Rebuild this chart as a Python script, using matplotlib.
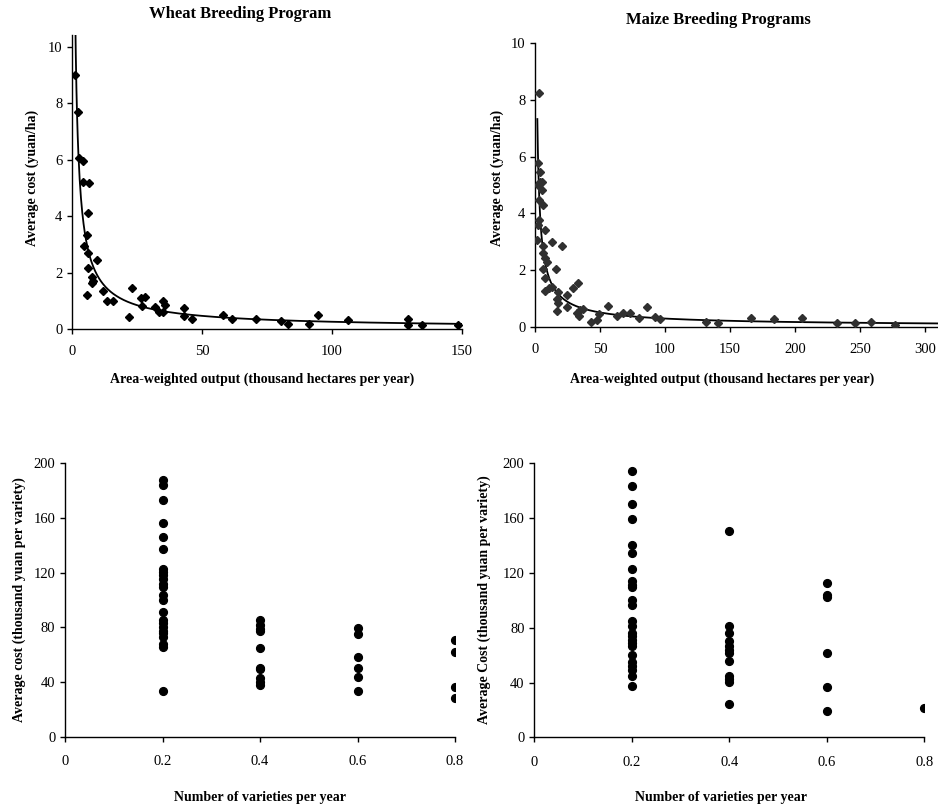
import numpy as np
import matplotlib
matplotlib.use("Agg")
import matplotlib.pyplot as plt

plt.rcParams['font.family'] = ['Liberation Serif', 'DejaVu Serif']

# ---- Data ----
wheat_x = [1.2, 2.4, 2.8, 4.4, 4.4, 6.7, 6.3, 5.9, 4.7, 6.3, 9.7, 6.3, 7.8, 8.2, 7.8, 5.6,
           12.1, 13.3, 15.9, 22.9, 22.1, 26.4, 28.1, 26.8, 31.9, 33.6, 35.1, 35.8, 34.9,
           43.1, 43.1, 46.0, 58.0, 61.4, 70.6, 80.3, 83.2, 91.2, 94.7, 106.3, 129.1, 129.1,
           134.5, 148.6]
wheat_y = [9.0, 7.7, 6.05, 5.97, 5.22, 5.17, 4.1, 3.34, 2.95, 2.69, 2.45, 2.18, 1.86, 1.69,
           1.63, 1.21, 1.36, 0.98, 0.98, 1.47, 0.42, 1.1, 1.12, 0.83, 0.78, 0.59, 0.98, 0.86,
           0.62, 0.74, 0.45, 0.37, 0.51, 0.37, 0.37, 0.29, 0.19, 0.18, 0.50, 0.32, 0.34, 0.14,
           0.14, 0.14]

maize_x = [3.3, 2.1, 3.8, 5.1, 3.8, 2.6, 5.1, 3.3, 5.9, 3.3, 2.6, 1.8, 7.7, 5.9, 5.9, 7.7,
           9.0, 13.3, 20.5, 15.9, 6.4, 7.7, 7.7, 11.0, 13.3, 17.4, 16.7, 17.4, 16.7, 24.4,
           24.4, 29.0, 33.3, 32.0, 34.1, 34.6, 37.2, 42.8, 47.4, 49.5, 56.4, 62.8, 67.4,
           73.1, 80.3, 86.4, 92.3, 96.5, 131.3, 140.5, 165.9, 184.1, 205.4, 232.0, 246.0,
           258.5, 277.0]
maize_y = [8.24, 5.76, 5.47, 5.09, 5.12, 5.0, 4.82, 4.47, 4.29, 3.76, 3.59, 3.06, 3.41, 2.85,
           2.59, 2.41, 2.3, 3.0, 2.85, 2.02, 2.02, 1.73, 1.27, 1.35, 1.41, 1.24, 0.96, 0.82,
           0.55, 1.12, 0.71, 1.35, 1.53, 0.47, 0.39, 0.59, 0.61, 0.18, 0.24, 0.45, 0.73, 0.38,
           0.49, 0.47, 0.29, 0.68, 0.35, 0.28, 0.15, 0.12, 0.30, 0.26, 0.30, 0.12, 0.12, 0.17,
           0.06]

wheat_var_x = [0.2] * 24 + [0.4] * 10 + [0.6] * 6 + [0.8] * 4
wheat_var_y = [188, 184, 173, 156, 146, 137, 123, 120.5, 118, 115, 111.5, 109.5, 103.5, 100,
               91.5, 85.5, 83, 80.5, 77.5, 75.5, 73, 68, 65.5, 33.7,
               85.4, 82, 78.5, 77, 65.2, 50.6, 49.5, 43, 40.2, 38,
               79.7, 74.9, 58.5, 50.0, 43.9, 33.7,
               70.7, 62.2, 36.6, 28.1]

maize_var_x = [0.2] * 25 + [0.4] * 12 + [0.6] * 6 + [0.8] * 1
maize_var_y = [194.4, 183.4, 170.5, 159.5, 140.2, 134.6, 122.9, 113.9, 111.5, 109.5, 100,
               96.8, 85.1, 80.9, 76.1, 73.7, 71.2, 68.8, 66.3, 60.2, 54.6, 52.2, 49.3, 44.4,
               37.6,
               150.3, 81.5, 76, 70, 67, 64, 61.5, 55.8, 44.8, 42.4, 40.2, 24.4,
               112.4, 103.9, 102.2, 61.8, 36.5, 19.4,
               21.6]

top_titles = ["Wheat Breeding Program", "Maize Breeding Programs"]
top_xlabel = "Area-weighted output (thousand hectares per year)"
top_ylabel = "Average cost (yuan/ha)"
bot_xlabel = "Number of varieties per year"
bot_ylabels = ["Average cost (thousand yuan per variety)",
               "Average Cost (thousand yuan per variety)"]

W, H = 938, 806
fig = plt.figure(figsize=(W / 100, H / 100), dpi=100)


def ax_px(left, top, right, bottom):
    return fig.add_axes([left / W, 1 - bottom / H, (right - left) / W, (bottom - top) / H])


def style(ax):
    for s in ['top', 'right']:
        ax.spines[s].set_visible(False)
    for s in ['left', 'bottom']:
        ax.spines[s].set_linewidth(1.0)
        ax.spines[s].set_color('black')
    ax.tick_params(direction='out', length=3.5, width=1.0, labelsize=10.5, colors='black')
    ax.patch.set_alpha(0)


def power_fit(x, y):
    b, lna = np.polyfit(np.log(x), np.log(y), 1)
    return np.exp(lna), b


# ---- Top-left: wheat ----
ax1 = ax_px(72, 35, 462, 329)
style(ax1)
a, b = power_fit(wheat_x, wheat_y)
xs = np.linspace(min(wheat_x) * 0.8, 150, 600)
ax1.plot(xs, a * xs ** b, color='black', lw=1.3, zorder=2)
ax1.plot(wheat_x, wheat_y, 'D', color='black', ms=4.4, zorder=3)
ax1.set_xlim(0, 150)
ax1.set_ylim(0, 10.43)
ax1.set_xticks([0, 50, 100, 150])
ax1.set_yticks([0, 2, 4, 6, 8, 10])
ax1.tick_params(axis='x', pad=8)

# ---- Top-right: maize ----
ax2 = ax_px(535, 43.3, 938, 326.7)
style(ax2)
a, b = power_fit(maize_x, maize_y)
xs = np.linspace(min(maize_x), 310, 800)
ax2.plot(xs, a * xs ** b, color='black', lw=1.3, zorder=2)
ax2.plot(maize_x, maize_y, 'D', color='#303030', ms=4.4, zorder=3)
ax2.set_xlim(0, 310)
ax2.set_ylim(0, 10)
ax2.set_xticks([0, 50, 100, 150, 200, 250, 300])
ax2.set_yticks([0, 2, 4, 6, 8, 10])
ax2.spines['left'].set_bounds(0, 10)
ax2.tick_params(axis='x', pad=8)

# ---- Bottom-left ----
ax3 = ax_px(65, 463.3, 455, 736.7)
style(ax3)
ax3.plot(wheat_var_x, wheat_var_y, 'o', color='black', ms=5.6)
ax3.set_xlim(0, 0.8)
ax3.set_ylim(0, 200)
ax3.set_xticks([0, 0.2, 0.4, 0.6, 0.8])
ax3.set_xticklabels(['0', '0.2', '0.4', '0.6', '0.8'])
ax3.set_yticks([0, 40, 80, 120, 160, 200])
ax3.tick_params(axis='x', pad=10)

# ---- Bottom-right ----
ax4 = ax_px(534.3, 463.3, 924.3, 737.3)
style(ax4)
ax4.plot(maize_var_x, maize_var_y, 'o', color='black', ms=5.6)
ax4.set_xlim(0, 0.8)
ax4.set_ylim(0, 200)
ax4.set_xticks([0, 0.2, 0.4, 0.6, 0.8])
ax4.set_xticklabels(['0', '0.2', '0.4', '0.6', '0.8'])
ax4.set_yticks([0, 40, 80, 120, 160, 200])
ax4.tick_params(axis='x', pad=10)

for ax in (ax1, ax2, ax3, ax4):
    for lab in ax.get_xticklabels() + ax.get_yticklabels():
        lab.set_clip_on(False)


def ftext(x, y, s, **kw):
    fig.text(x / W, 1 - y / H, s, ha='center', va='center', fontweight='bold', **kw)


ftext(240, 14, top_titles[0], fontsize=12)
ftext(718, 20, top_titles[1], fontsize=12)
ftext(262, 379, top_xlabel, fontsize=10)
ftext(722, 379, top_xlabel, fontsize=10)
ftext(32, 178, top_ylabel, fontsize=10, rotation=90)
ftext(497, 178, top_ylabel, fontsize=10, rotation=90)
ftext(260, 797, bot_xlabel, fontsize=10)
ftext(721, 797, bot_xlabel, fontsize=10)
ftext(19, 600, bot_ylabels[0], fontsize=10, rotation=90)
ftext(484, 600, bot_ylabels[1], fontsize=10, rotation=90)

fig.savefig("out.png", dpi=100)
